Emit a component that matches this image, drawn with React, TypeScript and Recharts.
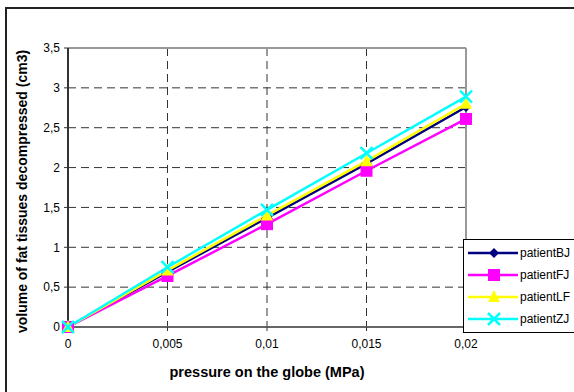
import {
  LineChart,
  Line,
  XAxis,
  YAxis,
  CartesianGrid,
  ReferenceLine,
} from "recharts";

const pressures = [0, 0.005, 0.01, 0.015, 0.02];
const patientBJ = [0, 0.69, 1.37, 2.05, 2.76];
const patientFJ = [0, 0.64, 1.29, 1.96, 2.61];
const patientLF = [0, 0.71, 1.4, 2.08, 2.8];
const patientZJ = [0, 0.75, 1.47, 2.18, 2.89];
const yTicks = [0, 0.5, 1, 1.5, 2, 2.5, 3, 3.5];

const SERIES = [
  { key: "patientBJ", color: "#000080", shape: "diamond" },
  { key: "patientFJ", color: "#ff00ff", shape: "square" },
  { key: "patientLF", color: "#ffff00", shape: "triangle" },
  { key: "patientZJ", color: "#00ffff", shape: "cross" },
];

const data = pressures.map((p, i) => ({
  p,
  patientBJ: patientBJ[i],
  patientFJ: patientFJ[i],
  patientLF: patientLF[i],
  patientZJ: patientZJ[i],
}));

const FONT = "'Liberation Sans', Arial, sans-serif";
const comma = (v: number) => String(v).replace(".", ",");

function Marker({ cx, cy, shape, color }: { cx: number; cy: number; shape: string; color: string }) {
  if (cx == null || cy == null) return null;
  if (shape === "diamond") {
    const r = 5;
    return <path d={`M${cx},${cy - r}L${cx + r},${cy}L${cx},${cy + r}L${cx - r},${cy}Z`} fill={color} />;
  }
  if (shape === "square") {
    return <rect x={cx - 6} y={cy - 6} width={12} height={12} fill={color} />;
  }
  if (shape === "triangle") {
    return <path d={`M${cx},${cy - 7}L${cx + 6},${cy + 5}L${cx - 6},${cy + 5}Z`} fill={color} />;
  }
  return (
    <path
      d={`M${cx - 6},${cy - 6}L${cx + 6},${cy + 6}M${cx + 6},${cy - 6}L${cx - 6},${cy + 6}`}
      stroke={color}
      strokeWidth={2.5}
    />
  );
}

// legend box sits over the lower right corner of the plot, like the Excel original
function LegendBox() {
  return (
    <div
      style={{
        position: "absolute",
        left: 463,
        top: 239,
        width: 120,
        height: 94,
        border: "1px solid #000",
        background: "#fff",
        boxSizing: "border-box",
        paddingTop: 2,
        fontFamily: FONT,
        fontSize: 12,
      }}
    >
      {SERIES.map((s) => (
        <div key={s.key} style={{ display: "flex", alignItems: "center", height: 22 }}>
          <svg width={56} height={16} style={{ flex: "none" }}>
            <line x1={4} x2={54} y1={8} y2={8} stroke={s.color} strokeWidth={2.5} />
            <Marker cx={30} cy={8} shape={s.shape} color={s.color} />
          </svg>
          <span style={{ color: "#000" }}>{s.key}</span>
        </div>
      ))}
    </div>
  );
}

export default function App() {
  return (
    <div
      style={{
        position: "absolute",
        left: 0,
        top: 0,
        width: 574,
        height: 392,
        overflow: "hidden",
        background: "#fff",
      }}
    >
      <div
        style={{
          position: "absolute",
          left: 5,
          top: 7,
          width: 620,
          height: 420,
          border: "2px solid #222",
        }}
      />
      <div style={{ position: "absolute", left: 0, top: 0 }}>
        <LineChart
          width={574}
          height={392}
          data={data}
          margin={{ top: 48, right: 108, bottom: 0, left: 0 }}
          style={{ fontFamily: FONT }}
        >
          <CartesianGrid strokeDasharray="8 5" stroke="#333" />
          <XAxis
            dataKey="p"
            type="number"
            domain={[0, 0.02]}
            ticks={pressures}
            tickFormatter={comma}
            height={65}
            tickSize={4}
            tickMargin={8}
            axisLine={{ stroke: "#666", strokeWidth: 2 }}
            tickLine={{ stroke: "#333" }}
            tick={{ fontSize: 12, fill: "#000" }}
            label={(props: any) => {
              const vb = props.viewBox;
              return (
                <text
                  x={vb.x + vb.width / 2}
                  y={vb.y + 50}
                  textAnchor="middle"
                  fontSize={14.5}
                  fontWeight="bold"
                  fill="#000"
                >
                  pressure on the globe (MPa)
                </text>
              );
            }}
          />
          <YAxis
            type="number"
            domain={[0, 3.5]}
            ticks={yTicks}
            tickFormatter={comma}
            width={68}
            tickSize={4}
            tickMargin={4}
            axisLine={{ stroke: "#333", strokeWidth: 2 }}
            tickLine={{ stroke: "#333" }}
            tick={{ fontSize: 12, fill: "#000" }}
            label={(props: any) => {
              const vb = props.viewBox;
              const cy = vb.y + vb.height / 2 + 4;
              return (
                <text
                  x={27}
                  y={cy}
                  transform={`rotate(-90 27 ${cy})`}
                  textAnchor="middle"
                  fontSize={14}
                  fontWeight="bold"
                  fill="#000"
                >
                  volume of fat tissues decompressed (cm3)
                </text>
              );
            }}
          />
          <ReferenceLine y={3.5} stroke="#999" strokeWidth={2} />
          <ReferenceLine x={0.02} stroke="#999" strokeWidth={2} />
          {SERIES.map((s) => (
            <Line
              key={s.key}
              dataKey={s.key}
              type="linear"
              stroke={s.color}
              strokeWidth={2.5}
              isAnimationActive={false}
              dot={(props: any) => (
                <Marker key={`${s.key}-${props.index}`} cx={props.cx} cy={props.cy} shape={s.shape} color={s.color} />
              )}
              activeDot={false}
            />
          ))}
        </LineChart>
      </div>
      <LegendBox />
    </div>
  );
}
